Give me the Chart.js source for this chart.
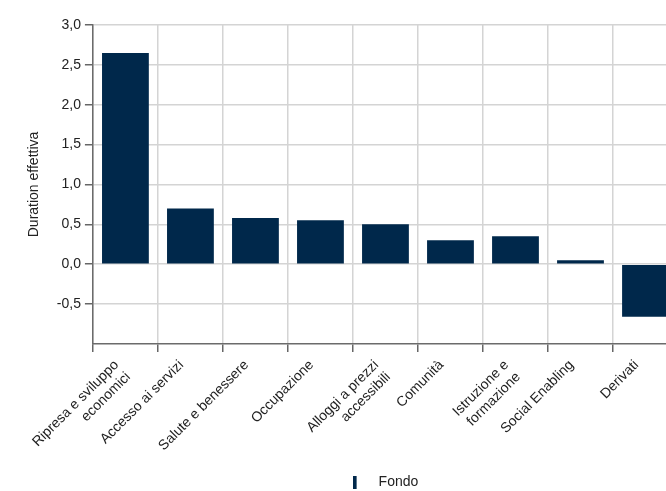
<!DOCTYPE html>
<html>
<head>
<meta charset="utf-8">
<script src="https://cdn.jsdelivr.net/npm/chart.js@4/dist/chart.umd.min.js"></script>
<style>
  html, body { margin: 0; padding: 0; background: #fff; overflow: hidden; }
  #wrap { width: 682px; height: 499px; }
</style>
</head>
<body>
<div id="wrap"><canvas id="Chart1"></canvas></div>
<script>
var categories = [
    ['Ripresa e sviluppo', 'economici'],
    'Accesso ai servizi',
    'Salute e benessere',
    'Occupazione',
    ['Alloggi a prezzi', 'accessibili'],
    'Comunità',
    ['Istruzione e', 'formazione'],
    'Social Enabling',
    'Derivati'
];
var fondo = [2.65, 0.70, 0.58, 0.55, 0.50, 0.30, 0.35, 0.05, -0.66];
var yTicks = [-0.5, 0, 0.5, 1, 1.5, 2, 2.5, 3];

var navy = '#00284b';
var font = { family: '"Liberation Sans", Arial, sans-serif', size: 14 };

// legend marker: thin bar, followed by some empty room
var marker = document.createElement('canvas');
marker.width = 19;
marker.height = 13;
var mctx = marker.getContext('2d');
mctx.fillStyle = navy;
mctx.fillRect(0, 0, 4, 13);

var ctx1 = document.getElementById('Chart1').getContext('2d');
var chart1 = new Chart(ctx1, {
    type: 'bar',
    data: {
        labels: categories,
        datasets: [{
            label: 'Fondo',
            data: fondo,
            backgroundColor: navy,
            borderWidth: 0
        }]
    },
    options: {
        responsive: true,
        maintainAspectRatio: false,
        animation: false,
        layout: { padding: { top: 25, right: 4, left: 20, bottom: 0 } },
        plugins: {
            tooltip: { enabled: false },
            legend: {
                position: 'bottom',
                fullSize: false,
                labels: {
                    usePointStyle: true,
                    pointStyle: marker,
                    pointStyleWidth: 19,
                    boxHeight: 13,
                    color: '#222',
                    font: font,
                    padding: 4
                }
            }
        },
        scales: {
            x: {
                grid: { color: '#d4d4d4', lineWidth: 1.5, tickColor: '#666', tickLength: 8 },
                border: { color: '#6b6b6b', width: 1.5 },
                ticks: { color: '#222', font: font, minRotation: 45, maxRotation: 45, padding: 5, labelOffset: -9 }
            },
            y: {
                min: -1,
                max: 3,
                afterBuildTicks: function (axis) {
                    axis.ticks = yTicks.map(function (v) { return { value: v }; });
                },
                grid: { color: '#d4d4d4', lineWidth: 1.5, tickColor: '#666', tickLength: 8 },
                border: { color: '#6b6b6b', width: 1.5 },
                ticks: {
                    color: '#222',
                    font: font,
                    padding: 4,
                    callback: function (v) { return v.toFixed(1).replace('.', ','); }
                },
                title: {
                    display: true,
                    text: 'Duration effettiva',
                    color: '#222',
                    font: font,
                    padding: { top: 6, bottom: 10 }
                }
            }
        }
    }
});
</script>
</body>
</html>
